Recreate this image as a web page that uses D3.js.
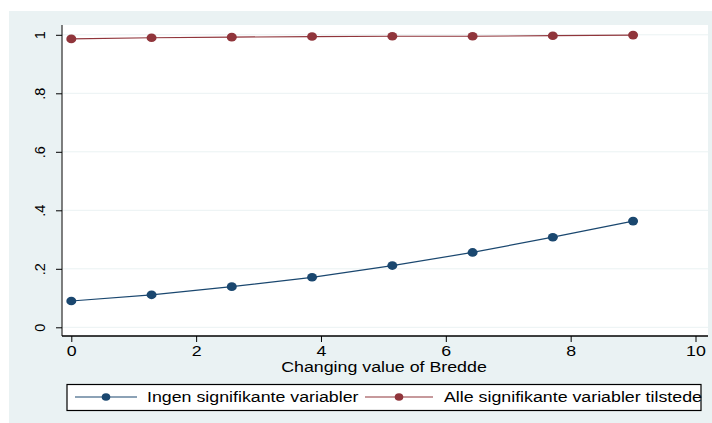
<!DOCTYPE html>
<html>
<head>
<meta charset="utf-8">
<script src="https://cdn.jsdelivr.net/npm/d3@7"></script>
<style>
body { margin: 0; background: #fff; }
text { font-family: "Liberation Sans", Arial, sans-serif; fill: #000; }
</style>
</head>
<body>
<svg id="chart" width="712" height="423"></svg>
<script>
// values
const bredde = [0, 1.286, 2.571, 3.857, 5.143, 6.429, 7.714, 9];
const ingen = [0.090, 0.111, 0.139, 0.171, 0.211, 0.256, 0.308, 0.363];
const alle = [0.986, 0.990, 0.992, 0.994, 0.995, 0.995, 0.997, 0.999];
const xTicks = [0, 2, 4, 6, 8, 10];
const yTicks = [0, 0.2, 0.4, 0.6, 0.8, 1];
const yTickLabels = ["0", ".2", ".4", ".6", ".8", "1"];
const seriesNames = ["Ingen signifikante variabler", "Alle signifikante variabler tilstede"];

const blue = "#1a476f", red = "#90353b", bg = "#eaf2f3";
const stretch = 1.27; // the picture is a bit wider than tall

const svg = d3.select("#chart");

svg.append("rect")
    .attr("x", 9).attr("y", 11)
    .attr("width", 703).attr("height", 412)
    .attr("fill", bg);

const plot = {left: 62, right: 708, top: 25, bottom: 336};

svg.append("rect")
    .attr("x", plot.left).attr("y", plot.top)
    .attr("width", plot.right - plot.left).attr("height", plot.bottom - plot.top)
    .attr("fill", "#fff");

const x = d3.scaleLinear().domain([0, 10]).range([71.3, 695.5]);
const y = d3.scaleLinear().domain([0, 1]).range([327.3, 34.8]);

// grid
svg.append("g").selectAll("line")
    .data(yTicks)
    .join("line")
    .attr("x1", plot.left).attr("x2", plot.right)
    .attr("y1", d => y(d)).attr("y2", d => y(d))
    .attr("stroke", bg).attr("stroke-width", 1);

// y axis
const yAxis = svg.append("g")
    .attr("transform", `translate(${plot.left},0)`)
    .call(d3.axisLeft(y).tickValues(yTicks).tickSize(6)
        .tickFormat((d, i) => yTickLabels[i]));
yAxis.attr("font-family", null);
yAxis.select(".domain").attr("d", `M0,${plot.top}V${plot.bottom}`).attr("stroke", "#555").attr("stroke-width", 1.5);
yAxis.selectAll(".tick line").attr("stroke", "#000");
yAxis.selectAll(".tick text")
    .attr("font-size", 14.5)
    .attr("text-anchor", "middle")
    .attr("x", 0).attr("y", 0)
    .attr("dy", "0.35em")
    .attr("transform", "translate(-22,0) rotate(-90)");

// x axis
const xAxis = svg.append("g")
    .attr("transform", `translate(0,${plot.bottom})`)
    .call(d3.axisBottom(x).tickValues(xTicks).tickSize(6).tickPadding(4));
xAxis.attr("font-family", null);
xAxis.select(".domain").attr("d", `M${plot.left},0H${plot.right}`).attr("stroke", "#000").attr("stroke-width", 1.5);
xAxis.selectAll(".tick line").attr("stroke", "#000");
xAxis.selectAll(".tick text").attr("font-size", 14).attr("transform", `scale(${stretch},1)`);

svg.append("text")
    .attr("transform", `translate(384,372) scale(${stretch},1)`)
    .attr("text-anchor", "middle")
    .attr("font-size", 14)
    .text("Changing value of Bredde");

// series
const series = [
    {values: ingen, color: blue},
    {values: alle, color: red}
];
const line = d3.line().x(d => x(d[0])).y(d => y(d[1]));

series.forEach(s => {
    const pts = bredde.map((b, i) => [b, s.values[i]]);
    svg.append("path")
        .datum(pts)
        .attr("d", line)
        .attr("fill", "none")
        .attr("stroke", s.color)
        .attr("stroke-width", 1.2);
    svg.append("g").selectAll("ellipse")
        .data(pts)
        .join("ellipse")
        .attr("cx", d => x(d[0])).attr("cy", d => y(d[1]))
        .attr("rx", 5).attr("ry", 4.3)
        .attr("fill", s.color);
});

// legend
const legend = svg.append("g");
legend.append("rect")
    .attr("x", 67).attr("y", 384.5)
    .attr("width", 634).attr("height", 26)
    .attr("fill", "#fff")
    .attr("stroke", "#000").attr("stroke-width", 1.2);

const legItems = [
    {name: seriesNames[0], color: blue, x0: 75, x1: 137, tx: 147},
    {name: seriesNames[1], color: red, x0: 365, x1: 433, tx: 444}
];
legItems.forEach(it => {
    legend.append("line")
        .attr("x1", it.x0).attr("x2", it.x1)
        .attr("y1", 397).attr("y2", 397)
        .attr("stroke", it.color).attr("stroke-width", 1.2);
    legend.append("ellipse")
        .attr("cx", (it.x0 + it.x1) / 2).attr("cy", 397)
        .attr("rx", 4.3).attr("ry", 3.8).attr("fill", it.color);
    legend.append("text")
        .attr("transform", `translate(${it.tx},402) scale(${stretch},1)`)
        .attr("font-size", 14)
        .text(it.name);
});
</script>
</body>
</html>
